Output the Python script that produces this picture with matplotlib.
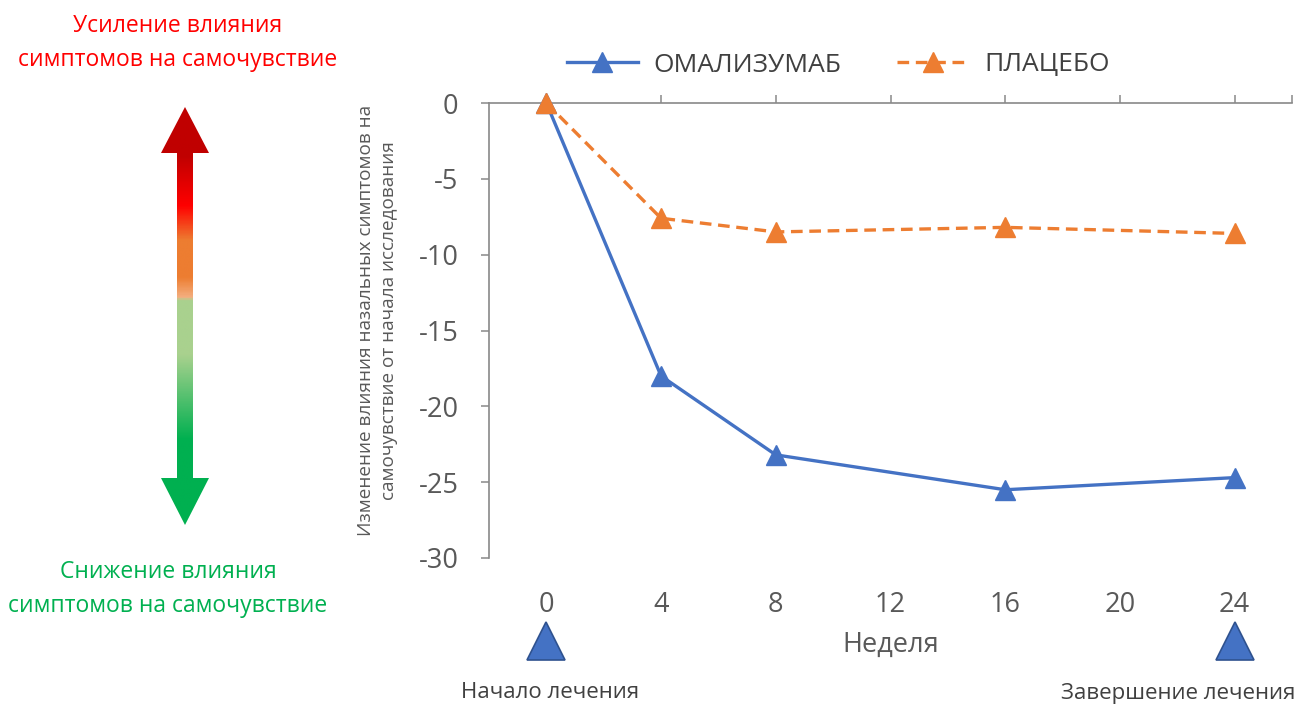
import numpy as np
import matplotlib
matplotlib.use("Agg")
import matplotlib.pyplot as plt
from matplotlib.patches import Polygon
from matplotlib.lines import Line2D
from matplotlib.colors import LinearSegmentedColormap
import matplotlib.transforms as mtransforms

plt.rcParams['font.family'] = ['Open Sans', 'DejaVu Sans']
plt.rcParams['axes.unicode_minus'] = False

# ---- data ----
weeks = [0, 4, 8, 16, 24]
omalizumab = [0, -18.0, -23.2, -25.5, -24.7]
placebo = [0, -7.6, -8.5, -8.2, -8.6]
series_names = ["ОМАЛИЗУМАБ", "ПЛАЦЕБО"]
x_ticks = [0, 4, 8, 12, 16, 20, 24]
y_ticks = [0, -5, -10, -15, -20, -25, -30]
treatment_weeks = [0, 24]
treatment_labels = ["Начало лечения", "Завершение лечения"]
x_label = "Неделя"
y_label = "Изменение влияния назальных симптомов на\nсамочувствие от начала исследования"
top_text = "Усиление влияния\nсимптомов на самочувствие"
bottom_text = "Снижение влияния\nсимптомов на самочувствие"

blue = "#4472C4"
orange = "#ED7D31"
axis_grey = "#898989"
tick_grey = "#595959"

W, H = 1299, 704
fig = plt.figure(figsize=(W / 100, H / 100), dpi=100)

# ---- main axes ----
ax = fig.add_axes([489 / W, 1 - 558 / H, (1292 - 489) / W, 455 / H])
ax.set_xlim(-2, 26)
ax.set_ylim(-30, 0)

ax.plot(weeks, omalizumab, color=blue, lw=2.4, marker='^', ms=15,
        clip_on=False, zorder=3, label=series_names[0])
ax.plot(weeks, placebo, color=orange, lw=2.4, ls=(0, (3.5, 2)), marker='^', ms=14,
        clip_on=False, zorder=4, label=series_names[1])

for s in ['right', 'bottom']:
    ax.spines[s].set_visible(False)
for s in ['left', 'top']:
    ax.spines[s].set_color(axis_grey)
    ax.spines[s].set_linewidth(1.2)

ax.set_yticks(y_ticks)
ax.set_yticklabels([str(v) for v in y_ticks])
ax.tick_params(axis='y', direction='out', length=6, width=1.1, color=axis_grey,
               labelsize=19.5, labelcolor=tick_grey, pad=16)

ax.set_xticks(x_ticks)
ax.set_xticklabels([str(v) for v in x_ticks])
ax.set_xticks([26], minor=True)
ax.tick_params(axis='x', which='both', top=True, bottom=False, labeltop=False,
               labelbottom=True, direction='out', length=6, width=1.1,
               color=axis_grey, labelsize=19.5, labelcolor=tick_grey, pad=18)

ax.text(0.5, -0.192, x_label, transform=ax.transAxes, ha='center', va='center',
        fontsize=19.5, color=tick_grey)
ax.text(-0.139, 0.522, y_label, transform=ax.transAxes, ha='center', va='center',
        rotation=90, fontsize=13.7, color=tick_grey, linespacing=1.4)

# treatment markers below the axis
trans = mtransforms.blended_transform_factory(ax.transData, ax.transAxes)
ax.plot(treatment_weeks, [-0.182] * len(treatment_weeks), transform=trans,
        ls='none', marker='^', ms=27, mfc=blue, mec="#2F528F", mew=1.2,
        clip_on=False)

fig.text(550 / W, 1 - 693 / H, treatment_labels[0], ha='center', va='center',
         fontsize=16, color="#404040")
fig.text(1178 / W, 1 - 693 / H, treatment_labels[1], ha='center', va='center',
         fontsize=16, color="#404040")

# legend
handles = [Line2D([], [], color=blue, lw=2.4, marker='^', ms=15),
           Line2D([], [], color=orange, lw=2.4, ls=(0, (3.5, 2)), marker='^', ms=14)]
fig.legend(handles, series_names, loc='center', bbox_to_anchor=(838 / W, 1 - 65 / H),
           ncol=2, frameon=False, fontsize=19, handlelength=2.7, handletextpad=0.6,
           columnspacing=2.1, labelcolor="#404040")

# ---- side texts ----
fig.text(178 / W, 1 - 43 / H, top_text, ha='center', va='center', fontsize=16.5,
         color="#FF0000", linespacing=1.55)
fig.text(168 / W, 1 - 589 / H, bottom_text, ha='center', va='center', fontsize=16.5,
         color="#00B050", linespacing=1.55)

# ---- gradient double arrow ----
ax0, ax1, ay0, ay1 = 150, 220, 100, 532
axa = fig.add_axes([ax0 / W, 1 - ay1 / H, (ax1 - ax0) / W, (ay1 - ay0) / H])
axa.set_xlim(ax0, ax1)
axa.set_ylim(ay1, ay0)
axa.axis('off')

cx = 185
poly = [(cx, 107), (cx + 24, 153), (cx + 8, 153), (cx + 8, 478), (cx + 24, 478),
        (cx, 525), (cx - 24, 478), (cx - 8, 478), (cx - 8, 153), (cx - 24, 153)]
stops = [(107, "#C00000"), (155, "#C00000"), (205, "#FF0000"), (240, "#ED7D31"),
         (277, "#ED7D31"), (298, "#F4B183"), (299.5, "#A9D18E"), (355, "#A9D18E"),
         (440, "#00B050"), (525, "#00B050")]
ys = np.array([s[0] for s in stops], dtype=float)
pos = (ys - ys[0]) / (ys[-1] - ys[0])
cmap = LinearSegmentedColormap.from_list("arr", list(zip(pos, [s[1] for s in stops])))
grad = np.linspace(0, 1, 600).reshape(-1, 1)
patch = Polygon(poly, closed=True, facecolor='none', edgecolor='none')
axa.add_patch(patch)
im = axa.imshow(grad, cmap=cmap, aspect='auto', extent=(cx - 25, cx + 25, 525, 107),
                interpolation='bilinear')
im.set_clip_path(patch)

fig.savefig("out.png", dpi=100)
